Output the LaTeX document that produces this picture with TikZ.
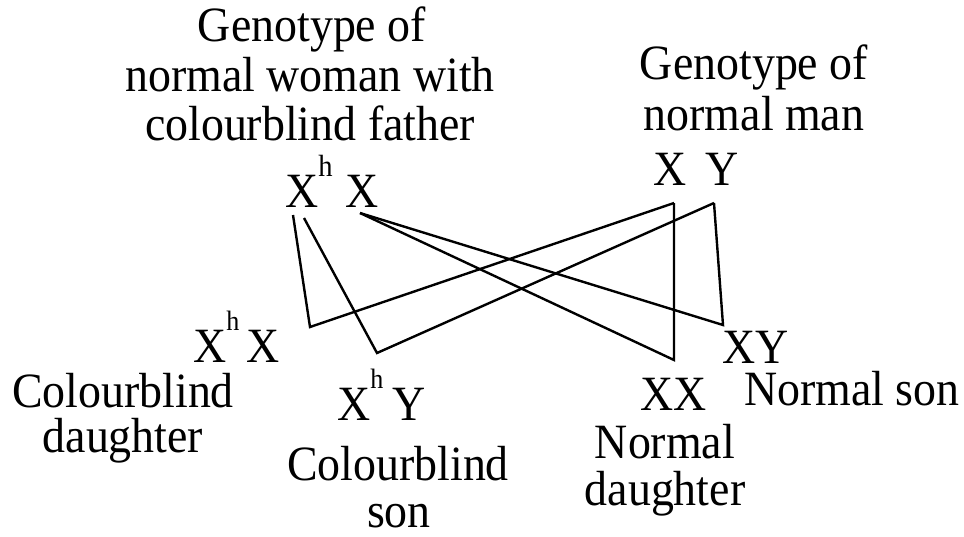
\documentclass[tikz,border=0pt]{standalone}
\usepackage{fontspec}
\setmainfont{Liberation Serif}[FakeStretch=0.93]
\newcommand\suph[2]{\raisebox{#2}{\fontsize{#1}{#1}\selectfont h}}
\begin{document}
\begin{tikzpicture}[x=0.75pt,y=-0.75pt,
  lbl/.style={inner sep=0pt,anchor=base,font=\fontsize{37}{40}\selectfont},
  geno/.style={inner sep=0pt,anchor=base west,font=\fontsize{37}{40}\selectfont},
  link/.style={line width=1.8pt,line join=miter,black}]
\useasboundingbox (0,0) rectangle (964,536);
% titles
\node[lbl] (ta1) at (312,41) {Genotype of};
\node[lbl] (ta2) at (310,91) {normal woman with};
\node[lbl] (ta3) at (310,140) {colourblind father};
\node[lbl] (tb1) at (754,79) {Genotype of};
\node[lbl] (tb2) at (754,130) {normal man};
% genotypes
\node[geno] (pm) at (285,207) {X\suph{23pt}{23pt}\hspace{10pt}X};
\node[geno] (pf) at (653,185) {X\hspace{14pt}Y};
\node[geno] (cd) at (193,362) {X\suph{21pt}{24pt}\hspace{5pt}X};
\node[geno] (cs) at (337,420) {X\suph{21pt}{24pt}\hspace{7pt}Y};
\node[geno] (nd) at (640,410) {XX};
\node[geno] (ns) at (722,363) {XY};
% labels
\node[lbl] (l1a) at (123,407) {Colourblind};
\node[lbl] (l1b) at (123,452) {daughter};
\node[lbl] (l2a) at (398,480) {Colourblind};
\node[lbl] (l2b) at (399,527) {son};
\node[lbl] (l3a) at (665,458) {Normal};
\node[lbl] (l3b) at (665,505) {daughter};
\node[lbl] (l4) at (852,405) {Normal son};
% connector points
\coordinate (mXh1) at (293,215);
\coordinate (mXh2) at (304,218);
\coordinate (mX) at (360,213);
\coordinate (fX) at (674,203);
\coordinate (fY) at (714,203);
\coordinate (vcd) at (310,327);
\coordinate (vcs) at (377,353);
\coordinate (vnd) at (674,360);
\coordinate (vns) at (723,325);
\draw[link] (mXh1) -- (vcd) -- (fX);
\draw[link] (mXh2) -- (vcs) -- (fY);
\draw[link] (mX) -- (vnd) -- (fX);
\draw[link] (mX) -- (vns) -- (fY);
\end{tikzpicture}
\end{document}
